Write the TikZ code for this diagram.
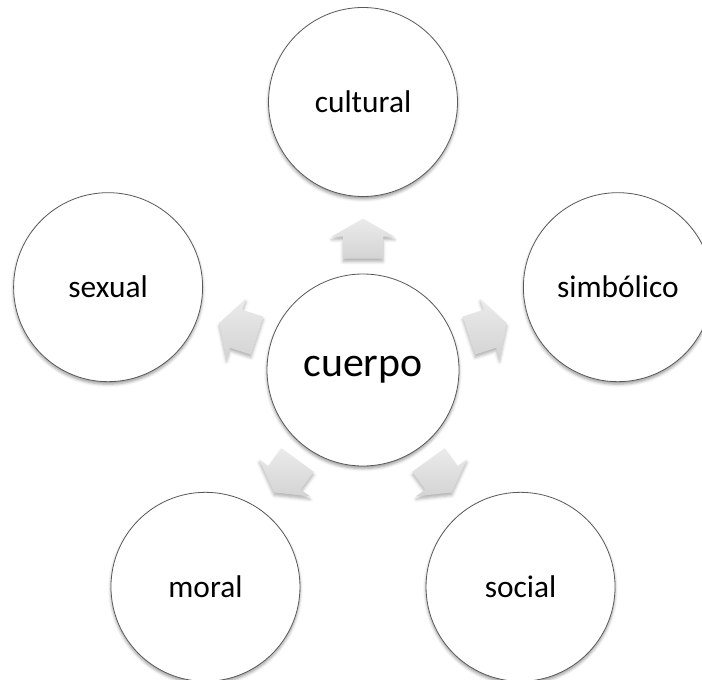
\documentclass[tikz,border=0pt]{standalone}
\usepackage{fontspec}
\setmainfont{Carlito}
\usetikzlibrary{calc,shadows.blur}
\begin{document}
\begin{tikzpicture}[x=1bp,y=1bp,
	centro/.style={circle,draw=black!65,line width=0.8bp,fill=white,minimum size=192bp,inner sep=0pt,font=\fontsize{42}{50}\selectfont,blur shadow={shadow xshift=0bp,shadow yshift=-2.5bp,shadow blur radius=3bp,shadow opacity=40}},
	hoja/.style={circle,draw=black!65,line width=0.8bp,fill=white,minimum size=189bp,inner sep=0pt,font=\fontsize{31.5}{38}\selectfont,blur shadow={shadow xshift=0bp,shadow yshift=-2.5bp,shadow blur radius=3bp,shadow opacity=40}},
	flecha/.style={top color=black!8,bottom color=black!17,draw=none,blur shadow={shadow xshift=0bp,shadow yshift=-3bp,shadow blur radius=3bp,shadow opacity=30}}
]
\useasboundingbox (0,0) rectangle (702,-680);
\node[centro] (cpo) at (363,-370) {cuerpo};
\foreach \n/\t/\a in {cul/cultural/90, sim/simbólico/18, sex/sexual/162, mor/moral/234, soc/social/306}
	\node[hoja] (\n) at ($(cpo)+(\a:268)$) {\t};
\foreach \n/\a in {cul/90, sim/18, sex/162, mor/234, soc/306}{
	\begin{scope}[shift={($(cpo)!0.49!(\n)$)},rotate=\a]
	\path[flecha] (-20,-20) -- (2,-20) -- (2,-31.5) -- (20,0) -- (2,31.5) -- (2,20) -- (-20,20) -- cycle;
	\end{scope}
}
\end{tikzpicture}
\end{document}
